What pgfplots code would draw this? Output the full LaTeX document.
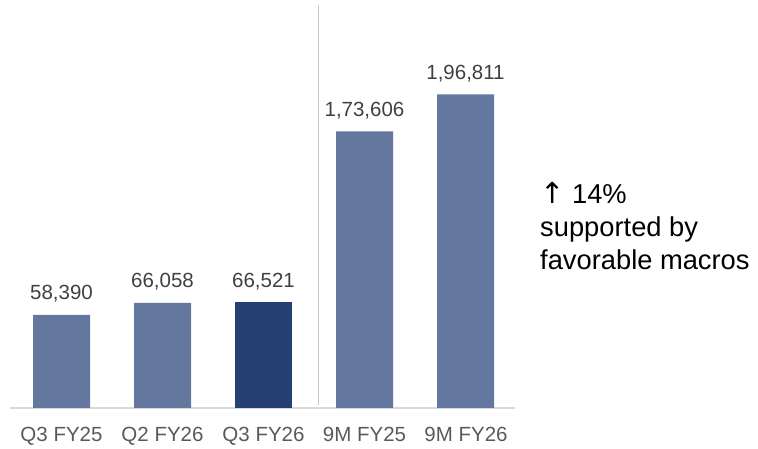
\documentclass[border=0pt]{standalone}
\usepackage{pgfplots}
\pgfplotsset{compat=1.18}
\usepackage{fontspec}
\setmainfont{Liberation Sans}
\newfontfamily\symfont{DejaVu Sans}
\definecolor{barlight}{HTML}{64789F}
\definecolor{bardark}{HTML}{254073}
\definecolor{axisgray}{HTML}{D9D9D9}
\definecolor{sepgray}{HTML}{C8C8C8}
\definecolor{labgray}{HTML}{595959}
\definecolor{valgray}{HTML}{404040}
\begin{document}
\begin{tikzpicture}[x=1pt,y=1pt]
\path (0,0) rectangle (758,449);
\begin{axis}[
  at={(61.5pt,41pt)}, anchor=origin,
  scale only axis, width=505pt, height=403pt,
  xmin=-0.51, xmax=4.49, ymin=0, ymax=253000,
  axis lines=none, clip=false,
  xtick=\empty, ytick=\empty,
  ybar, bar width=57pt, bar shift=0pt,
  point meta=explicit symbolic,
  nodes near coords,
  nodes near coords style={anchor=base, yshift=15pt, inner sep=0pt, text=valgray, font=\fontsize{20.5}{24}\selectfont},
]
\draw[axisgray, line width=1.6pt] (axis cs:-0.51,0) -- (axis cs:4.49,0);
\draw[sepgray, line width=1pt] (axis cs:2.54,2000) -- (axis cs:2.54,253000);
\addplot[fill=barlight, draw=none] table[meta=lab] {
x y lab
0 58390 58,390
1 66058 66,058
3 173606 1,73,606
4 196811 1,96,811
};
\addplot[fill=bardark, draw=none] table[meta=lab] {
x y lab
2 66521 66,521
};
\end{axis}
\foreach \x/\t in {61.5/Q3 FY25,162.5/Q2 FY26,263.5/Q3 FY26,364.5/9M FY25,466/9M FY26}
  \node[anchor=base, inner sep=0pt, text=labgray, font=\fontsize{20.5}{24}\selectfont] at (\x,7) {\t};
\node[anchor=base west, inner sep=0pt, font=\fontsize{27.3}{33}\selectfont] at (540,245) {{\symfont\fontsize{29}{33}\selectfont ↑} 14\%};
\node[anchor=base west, inner sep=0pt, font=\fontsize{27.3}{33}\selectfont] at (540,212) {supported by};
\node[anchor=base west, inner sep=0pt, font=\fontsize{27.3}{33}\selectfont] at (540,179) {favorable macros};
\end{tikzpicture}
\end{document}
